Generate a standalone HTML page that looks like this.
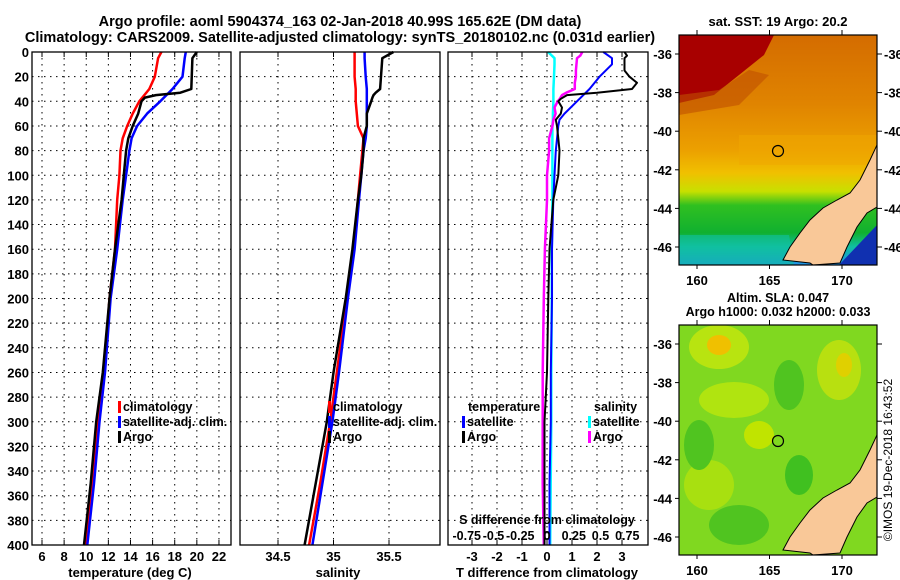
<!DOCTYPE html>
<html><head><meta charset="utf-8">
<style>
body{margin:0;background:#fff;}
svg{display:block;font-family:"Liberation Sans",sans-serif;font-weight:bold;}
</style></head>
<body>
<svg id="chart" width="900" height="580" viewBox="0 0 900 580" xmlns="http://www.w3.org/2000/svg">
<defs>
 <linearGradient id="sstgrad" x1="0" y1="0" x2="0" y2="1">
  <stop offset="0" stop-color="#d46c00"/>
  <stop offset="0.3" stop-color="#e08400"/>
  <stop offset="0.5" stop-color="#eca000"/>
  <stop offset="0.6" stop-color="#f0c000"/>
  <stop offset="0.68" stop-color="#c8e000"/>
  <stop offset="0.74" stop-color="#30c020"/>
  <stop offset="0.86" stop-color="#10b030"/>
  <stop offset="0.92" stop-color="#10c0a0"/>
  <stop offset="1" stop-color="#2090e8"/>
 </linearGradient>
</defs>
<text x="340" y="26" font-size="14.5" text-anchor="middle">Argo profile: aoml 5904374_163 02-Jan-2018 40.99S 165.62E (DM data)</text>
<text x="340" y="42" font-size="14.5" text-anchor="middle">Climatology: CARS2009. Satellite-adjusted climatology: synTS_20180102.nc (0.031d earlier)</text>
<g id="maps">
 <text x="778" y="26" font-size="13" text-anchor="middle">sat. SST: 19 Argo: 20.2</text>
 <svg x="679" y="35" width="198" height="230" viewBox="0 0 198 230">
  <rect width="198" height="230" fill="url(#sstgrad)"/>
  <polygon points="0,0 95,0 85,20 60,40 35,60 0,68" fill="#a80000"/>
  <polygon points="0,60 40,55 70,35 90,40 60,70 0,80" fill="#c05000" opacity="0.6"/>
  <rect x="60" y="100" width="138" height="30" fill="#f0a800" opacity="0.5"/>
  <polygon points="0,200 110,200 115,230 0,230" fill="#10c0a0" opacity="0.6"/>
  <polygon points="198,190 160,230 198,230" fill="#1030b0"/>
  <polygon points="198,110 191,125 181,145 171,158 158,165 144,173 131,185 121,198 111,212 104,225 131,228 134,230 161,228 168,212 178,192 188,178 198,172" fill="#f9c898" stroke="#000" stroke-width="1"/>
  <circle cx="99" cy="116" r="5.5" fill="none" stroke="#000" stroke-width="1.2"/>
 </svg>
 <rect x="679" y="35" width="198" height="230" fill="none" stroke="#000" stroke-width="1.2"/>
 <text x="778" y="302" font-size="12.5" text-anchor="middle">Altim. SLA: 0.047</text>
 <text x="778" y="316" font-size="12.5" text-anchor="middle">Argo h1000: 0.032 h2000: 0.033</text>
 <svg x="679" y="325" width="198" height="230" viewBox="0 0 198 230">
  <rect width="198" height="230" fill="#80d820"/>
  <ellipse cx="40" cy="22" rx="30" ry="22" fill="#b8e410"/>
  <ellipse cx="40" cy="20" rx="12" ry="10" fill="#f0c000"/>
  <ellipse cx="160" cy="45" rx="22" ry="30" fill="#b8e010"/>
  <ellipse cx="165" cy="40" rx="8" ry="12" fill="#e0d000"/>
  <ellipse cx="55" cy="75" rx="35" ry="18" fill="#b0e410"/>
  <ellipse cx="30" cy="160" rx="25" ry="25" fill="#a8e010"/>
  <ellipse cx="80" cy="110" rx="15" ry="14" fill="#c0e400"/>
  <ellipse cx="120" cy="150" rx="14" ry="20" fill="#40c020"/>
  <ellipse cx="20" cy="120" rx="15" ry="25" fill="#50c420"/>
  <ellipse cx="110" cy="60" rx="15" ry="25" fill="#50c420"/>
  <ellipse cx="60" cy="200" rx="30" ry="20" fill="#50c420"/>
  <polygon points="198,110 191,125 181,145 171,158 158,165 144,173 131,185 121,198 111,212 104,225 131,228 134,230 161,228 168,212 178,192 188,178 198,172" fill="#f9c898" stroke="#000" stroke-width="1"/>
  <circle cx="99" cy="116" r="5.5" fill="none" stroke="#000" stroke-width="1.2"/>
 </svg>
 <rect x="679" y="325" width="198" height="230" fill="none" stroke="#000" stroke-width="1.2"/>
 <text transform="translate(892,460) rotate(-90)" font-size="12" font-weight="normal" text-anchor="middle">©IMOS 19-Dec-2018 16:43:52</text>
</g>
<g id="plots"></g>
</svg>
<script>
const depthClim = [0,5,20,30,40,50,60,70,80,100,120,160,200,260,300,350,400];
const tempClim = [16.8,16.5,16.2,15.7,14.8,14.2,13.7,13.3,13.1,13.0,12.8,12.6,12.1,11.6,11.1,10.6,10.0];
const tempSat = [19.0,18.9,18.7,17.8,16.7,15.5,14.6,14.1,13.9,13.6,13.3,12.8,12.2,11.7,11.2,10.7,10.1];
const depthArgo = [0,5,30,33,35,37,40,50,60,70,80,100,120,160,200,260,300,350,400];
const tempArgo = [20.0,19.6,19.5,18.5,16.3,15.3,15.0,14.7,14.2,13.8,13.6,13.4,13.2,12.6,12.1,11.5,10.9,10.4,9.8];
const salClim = [35.19,35.19,35.19,35.2,35.2,35.21,35.22,35.27,35.26,35.24,35.22,35.18,35.12,35.03,34.97,34.88,34.78];
const salSat = [35.28,35.28,35.29,35.3,35.3,35.3,35.3,35.29,35.27,35.25,35.23,35.19,35.13,35.05,34.99,34.9,34.81];
const salArgo = [35.54,35.44,35.42,35.38,35.36,35.35,35.34,35.3,35.3,35.27,35.27,35.25,35.22,35.17,35.11,35.0,34.94,34.84,34.74];
const depthDiff = [0,5,10,20,30,40,50,55,60,80,100,120,160,200,260,300,350,400];
const dTempSat = [2.25,2.6,2.6,2.1,1.7,1.2,0.7,0.5,0.45,0.35,0.3,0.25,0.2,0.2,0.15,0.15,0.1,0.1];
const dSalSat = [0.01,0.07,0.07,0.065,0.06,0.06,0.055,0.055,0.05,0.05,0.05,0.05,0.045,0.045,0.04,0.04,0.035,0.03];
const depthDiffArgo = [0,3,5,15,20,25,30,33,35,38,40,45,50,55,60,70,80,100,120,160,200,260,300,350,400];
const dTempArgo = [3.1,3.2,3.1,3.1,3.3,3.6,3.4,2.0,0.8,0.55,0.45,0.6,0.55,0.35,0.4,0.45,0.5,0.45,0.25,0.1,0.05,0,-0.1,-0.1,-0.1];
const dSalArgo = [0.33,0.31,0.28,0.27,0.27,0.26,0.26,0.18,0.14,0.12,0.1,0.07,0.08,0.06,0.05,0.02,0.02,0.0,0.0,-0.02,-0.03,-0.04,-0.04,-0.04,-0.03];
const depthTicks = [0,20,40,60,80,100,120,140,160,180,200,220,240,260,280,300,320,340,360,380,400];
const tempTicks = [6,8,10,12,14,16,18,20,22];
const salTicks = [34.5,35,35.5];
const dTempTicks = [-3,-2,-1,0,1,2,3];
const dSalTicks = [-0.75,-0.5,-0.25,0,0.25,0.5,0.75];
const dSalTickLabels = ["-0.75","-0.5","-0.25","0","0.25","0.5","0.75"];

const NS='http://www.w3.org/2000/svg';
const root=document.getElementById('plots');
function mk(tag,attrs,parent,text){const e=document.createElementNS(NS,tag);for(const k in attrs)e.setAttribute(k,attrs[k]);if(text!==undefined)e.textContent=text;(parent||root).appendChild(e);return e;}
const TOP=52,BOT=545;
const yScale=d=>TOP+(d/400)*(BOT-TOP);
const xT=v=>42+(v-6)*11.06;
const xS=v=>278+(v-34.5)*111;
const xDT=v=>547+v*25;
const xDS=v=>547+v*107;

function frame(x0,x1,name){
  const g=mk('g',{});
  
  
  depthTicks.forEach(d=>{
    const l=mk('line',{x1:x0,x2:x1,y1:yScale(d),y2:yScale(d),stroke:'#000','stroke-width':1,'stroke-dasharray':'1.5,4.5'},g);
    
    
  });
  return g;
}
function vgrid(g,ticks,sc){
  ticks.forEach(v=>{
    const l=mk('line',{x1:sc(v),x2:sc(v),y1:TOP,y2:BOT,stroke:'#000','stroke-width':1,'stroke-dasharray':'1.5,4.5'},g);
    
    
    mk('line',{x1:sc(v),x2:sc(v),y1:TOP,y2:TOP+5,stroke:'#000'},g);
    mk('line',{x1:sc(v),x2:sc(v),y1:BOT,y2:BOT-5,stroke:'#000'},g);
  });
}
function series(g,xs,ds,sc,color,w,name){
  const pts=xs.map((v,i)=>sc(v).toFixed(1)+','+yScale(ds[i]).toFixed(1)).join(' ');
  const p=mk('polyline',{points:pts,fill:'none',stroke:color,'stroke-width':w,'stroke-linejoin':'round'},g);
  
  
}
function border(g,x0,x1){mk('rect',{x:x0,y:TOP,width:x1-x0,height:BOT-TOP,fill:'none',stroke:'#000','stroke-width':1.3},g);}
function legendEntry(g,x,y,color,label,name){
  const e=mk('g',{},g);
  
  
  mk('rect',{x:x,y:y-10,width:3,height:12,fill:color},e);
  mk('text',{x:x+5,y:y,'font-size':12.5},e,label);
}

// Panel 1
let g1=frame(32,231,'temperature-panel');
vgrid(g1,tempTicks,xT);
series(g1,tempClim,depthClim,xT,'#ff0000',2.5,'temp-climatology-line');
series(g1,tempSat,depthClim,xT,'#0000ff',2.5,'temp-satellite-line');
series(g1,tempArgo,depthArgo,xT,'#000000',2.5,'temp-argo-line');
border(g1,32,231);
depthTicks.forEach(d=>{const t=mk('text',{x:29,y:yScale(d)+5,'font-size':13,'text-anchor':'end'},g1,String(d));});
tempTicks.forEach(v=>{const t=mk('text',{x:xT(v),y:561,'font-size':13,'text-anchor':'middle'},g1,String(v));});
mk('text',{x:130,y:577,'font-size':13,'text-anchor':'middle',},g1,'temperature (deg C)');
legendEntry(g1,118,411,'#ff0000','climatology','legend-climatology');
legendEntry(g1,118,426,'#0000ff','satellite-adj. clim.','legend-satellite');
legendEntry(g1,118,441,'#000000','Argo','legend-argo');

// Panel 2
let g2=frame(240,440,'salinity-panel');
vgrid(g2,salTicks,xS);
series(g2,salClim,depthClim,xS,'#ff0000',2.5,'sal-climatology-line');
series(g2,salSat,depthClim,xS,'#0000ff',2.5,'sal-satellite-line');
series(g2,salArgo,depthArgo,xS,'#000000',2.5,'sal-argo-line');
border(g2,240,440);
salTicks.forEach(v=>{const t=mk('text',{x:xS(v),y:561,'font-size':13,'text-anchor':'middle'},g2,String(v));});
mk('text',{x:338,y:577,'font-size':13,'text-anchor':'middle',},g2,'salinity');
legendEntry(g2,328,411,'#ff0000','climatology','legend-climatology-2');
legendEntry(g2,328,426,'#0000ff','satellite-adj. clim.','legend-satellite-2');
legendEntry(g2,328,441,'#000000','Argo','legend-argo-2');

// Panel 3
let g3=frame(448,648,'difference-panel');
vgrid(g3,dTempTicks,xDT);
series(g3,dSalSat,depthDiff,xDS,'#00ffff',2.5,'sal-diff-satellite-line');
series(g3,dSalArgo,depthDiffArgo,xDS,'#ff00ff',2.5,'sal-diff-argo-line');
series(g3,dTempSat,depthDiff,xDT,'#0000ff',2,'temp-diff-satellite-line');
series(g3,dTempArgo,depthDiffArgo,xDT,'#000000',2,'temp-diff-argo-line');
border(g3,448,648);
dTempTicks.forEach(v=>{const t=mk('text',{x:xDT(v),y:561,'font-size':13,'text-anchor':'middle'},g3,String(v));});
dSalTicks.forEach((v,i)=>{const t=mk('text',{x:xDS(v),y:540,'font-size':12.5,'text-anchor':'middle'},g3,dSalTickLabels[i]);});
mk('text',{x:547,y:524,'font-size':12.5,'text-anchor':'middle',},g3,'S difference from climatology');
mk('text',{x:547,y:577,'font-size':13,'text-anchor':'middle',},g3,'T difference from climatology');
mk('text',{x:468,y:411,'font-size':12.5,},g3,'temperature');
legendEntry(g3,462,426,'#0000ff','satellite','legend-temp-satellite');
legendEntry(g3,462,441,'#000000','Argo','legend-temp-argo');
mk('text',{x:594,y:411,'font-size':12.5,},g3,'salinity');
legendEntry(g3,588,426,'#00ffff','satellite','legend-sal-satellite');
legendEntry(g3,588,441,'#ff00ff','Argo','legend-sal-argo');

// Map ticks
const lonTicks=[160,165,170];
const latTicks=[-36,-38,-40,-42,-44,-46];
const lonX=v=>697+(v-160)*14.5;
const latY=v=>54+(-36-v)*19.3;
[[0,265,35,true],[290,555,325,false]].forEach(([off,bot,top,rightLabels],mi)=>{
  const mg=mk('g',{});
  
  
  lonTicks.forEach(v=>{
    mk('line',{x1:lonX(v),x2:lonX(v),y1:top,y2:top-5,stroke:'#000'},mg);
    mk('line',{x1:lonX(v),x2:lonX(v),y1:bot,y2:bot+4,stroke:'#000'},mg);
    const t=mk('text',{x:lonX(v),y:bot+20,'font-size':13,'text-anchor':'middle'},mg,String(v));
    
    
  });
  latTicks.forEach(v=>{
    const y=latY(v)+off;
    mk('line',{x1:877,x2:882,y1:y,y2:y,stroke:'#000'},mg);
    mk('line',{x1:679,x2:675,y1:y,y2:y,stroke:'#000'},mg);
    if(rightLabels){
      const t=mk('text',{x:884,y:y+5,'font-size':13},mg,String(v));
      
      
    }
    const t2=mk('text',{x:672,y:y+5,'font-size':13,'text-anchor':'end'},mg,String(v));
    
    
  });
});
</script>
</body></html>
